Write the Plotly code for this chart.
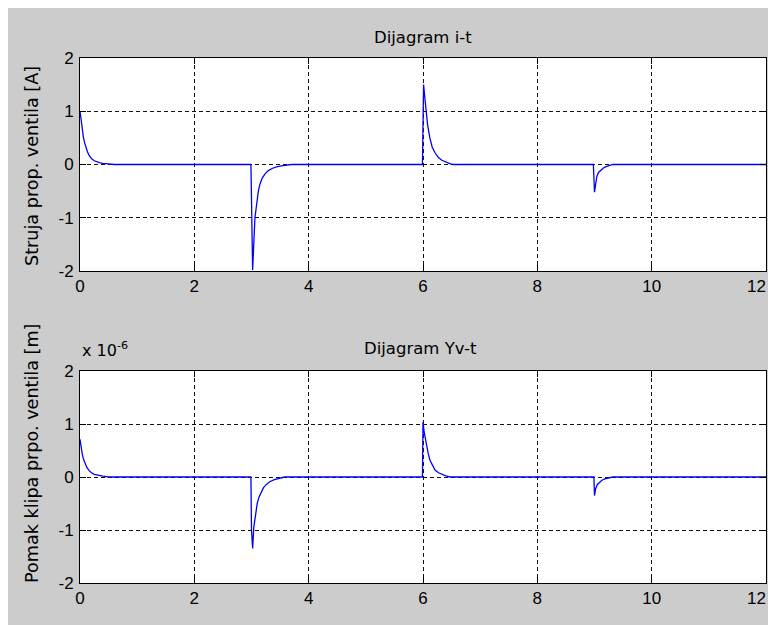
import plotly.graph_objects as go

# ---- data ----
# Current of proportional valve [A]
t_current = [0.00, 0.02, 0.04, 0.06, 0.08, 0.10, 0.13, 0.16, 0.20, 0.25, 0.30, 0.35, 0.40, 0.50, 0.60,
             2.99, 3.00, 3.02, 3.06, 3.09, 3.12, 3.15, 3.19, 3.24, 3.30, 3.37, 3.45, 3.55, 3.65, 3.70,
             5.99, 6.00, 6.01, 6.05, 6.08, 6.12, 6.16, 6.21, 6.27, 6.33, 6.40, 6.47, 6.52,
             8.98, 9.00, 9.02, 9.04, 9.07, 9.11, 9.15, 9.20, 9.26, 9.32, 12.00]
i_current = [1.00, 0.80, 0.64, 0.51, 0.41, 0.33, 0.24, 0.17, 0.11, 0.07, 0.045, 0.03, 0.02, 0.01, 0.0,
             0.0, -1.00, -1.98, -1.00, -0.70, -0.50, -0.36, -0.25, -0.17, -0.11, -0.07, -0.04, -0.02, -0.01, 0.0,
             0.0, 0.78, 1.50, 1.06, 0.75, 0.50, 0.33, 0.22, 0.13, 0.08, 0.04, 0.015, 0.0,
             0.0, -0.52, -0.32, -0.23, -0.15, -0.10, -0.07, -0.04, -0.02, 0.0, 0.0]

# Valve spool displacement [m]
t_disp = [0.00, 0.02, 0.04, 0.06, 0.09, 0.12, 0.16, 0.20, 0.25, 0.32, 0.40, 0.50,
          2.99, 3.00, 3.02, 3.04, 3.07, 3.10, 3.13, 3.17, 3.21, 3.26, 3.32, 3.40, 3.50, 3.58,
          5.99, 6.00, 6.02, 6.04, 6.06, 6.09, 6.12, 6.16, 6.21, 6.27, 6.34, 6.40, 6.47,
          8.99, 9.00, 9.02, 9.05, 9.09, 9.13, 9.18, 9.25, 9.32, 12.00]
y_disp = [0.71e-6, 0.55e-6, 0.43e-6, 0.34e-6, 0.25e-6, 0.18e-6, 0.12e-6, 0.08e-6, 0.05e-6, 0.03e-6, 0.015e-6, 0.0,
          0.0, -1.0e-6, -1.35e-6, -0.95e-6, -0.68e-6, -0.50e-6, -0.38e-6, -0.28e-6, -0.20e-6, -0.14e-6, -0.09e-6, -0.05e-6, -0.02e-6, 0.0,
          0.0, 1.04e-6, 0.85e-6, 0.72e-6, 0.60e-6, 0.45e-6, 0.32e-6, 0.22e-6, 0.13e-6, 0.08e-6, 0.04e-6, 0.02e-6, 0.0,
          0.0, -0.35e-6, -0.22e-6, -0.14e-6, -0.09e-6, -0.06e-6, -0.035e-6, -0.015e-6, 0.0, 0.0]

x_ticks = [0, 2, 4, 6, 8, 10, 12]
y_ticks = [-2, -1, 0, 1, 2]
disp_scale = 1e-6

titles = ["Dijagram i-t", "Dijagram Yv-t"]
y_titles = ["Struja prop. ventila [A]", "Pomak klipa prpo. ventila [m]"]

# ---- figure ----
OFFX, OFFY = 8, 8        # page body margin
W, H = 768, 617
# plot area in page pixels: x 80..766, top plot y 58..271, bottom plot y 371..583
L = 80 - OFFX
R = W - (766 - OFFX)
T = 58 - OFFY
B = H - (583 - OFFY)
pw, ph = W - L - R, H - T - B
FONT = "Liberation Sans, Arial, Helvetica, sans-serif"
TFONT = "DejaVu Sans, Verdana, sans-serif"

def py(pix):  # page pixel y (from top) -> paper y
    return (H - B - (pix - OFFY)) / ph

def px(pix):
    return ((pix - OFFX) - L) / pw

# last x label padded so it stays inside the visible page edge
x_ticktext = [str(v) for v in x_ticks]
x_ticktext[-1] = x_ticktext[-1] + "\u00a0" * 4

fig = go.Figure()
fig.add_trace(go.Scatter(x=t_current, y=i_current, mode="lines",
                         line=dict(color="#0000ff", width=1.3), xaxis="x", yaxis="y",
                         showlegend=False, hoverinfo="skip"))
fig.add_trace(go.Scatter(x=t_disp, y=[v / disp_scale for v in y_disp], mode="lines",
                         line=dict(color="#0000ff", width=1.3), xaxis="x2", yaxis="y2",
                         showlegend=False, hoverinfo="skip"))

axis_common = dict(showline=True, linecolor="black", linewidth=1, mirror="ticks",
                   ticks="inside", ticklen=6, tickcolor="black", tickwidth=1,
                   showgrid=True, gridcolor="#111111", gridwidth=1, griddash="4px,3px",
                   zeroline=False, tickfont=dict(family=FONT, size=17, color="black"),
                   automargin=False, fixedrange=True)

top_dom = [py(271), py(58)]
bot_dom = [py(583), py(371)]

fig.update_layout(
    width=W, height=H, autosize=False,
    margin=dict(l=L, r=R, t=T, b=B, autoexpand=False),
    paper_bgcolor="#cccccc", plot_bgcolor="white",
    xaxis=dict(domain=[0, 1], anchor="y", range=[0, 12], tickvals=x_ticks,
               ticktext=x_ticktext, ticklabelstandoff=0,
               ticklabeloverflow="allow", **axis_common),
    yaxis=dict(domain=top_dom, anchor="x", range=[-2, 2], tickvals=y_ticks,
               ticktext=[str(v) for v in y_ticks], ticklabelstandoff=2, **axis_common),
    xaxis2=dict(domain=[0, 1], anchor="y2", range=[0, 12], tickvals=x_ticks,
                ticktext=x_ticktext, ticklabelstandoff=0,
                ticklabeloverflow="allow", **axis_common),
    yaxis2=dict(domain=bot_dom, anchor="x2", range=[-2, 2], tickvals=y_ticks,
                ticktext=[str(v) for v in y_ticks], ticklabelstandoff=2, **axis_common),
    showlegend=False,
)

ann = []
ann.append(dict(text=titles[0], x=px(423), y=py(38), xref="paper", yref="paper",
                xanchor="center", yanchor="middle", showarrow=False,
                font=dict(family=TFONT, size=16.5, color="black")))
ann.append(dict(text=titles[1], x=px(420), y=py(348), xref="paper", yref="paper",
                xanchor="center", yanchor="middle", showarrow=False,
                font=dict(family=TFONT, size=16.5, color="black")))
ann.append(dict(text="x 10<sup>-6</sup>", x=px(80), y=py(350), xref="paper", yref="paper",
                xanchor="left", yanchor="middle", showarrow=False,
                font=dict(family=TFONT, size=16, color="black")))
ann.append(dict(text=y_titles[0], x=px(32), y=py(166), xref="paper", yref="paper",
                xanchor="center", yanchor="middle", showarrow=False, textangle=-90,
                font=dict(family=TFONT, size=17.6, color="black")))
ann.append(dict(text=y_titles[1], x=px(32), y=py(454), xref="paper", yref="paper",
                xanchor="center", yanchor="middle", showarrow=False, textangle=-90,
                font=dict(family=TFONT, size=17.6, color="black")))
fig.update_layout(annotations=ann)

fig.write_html("out.html")
